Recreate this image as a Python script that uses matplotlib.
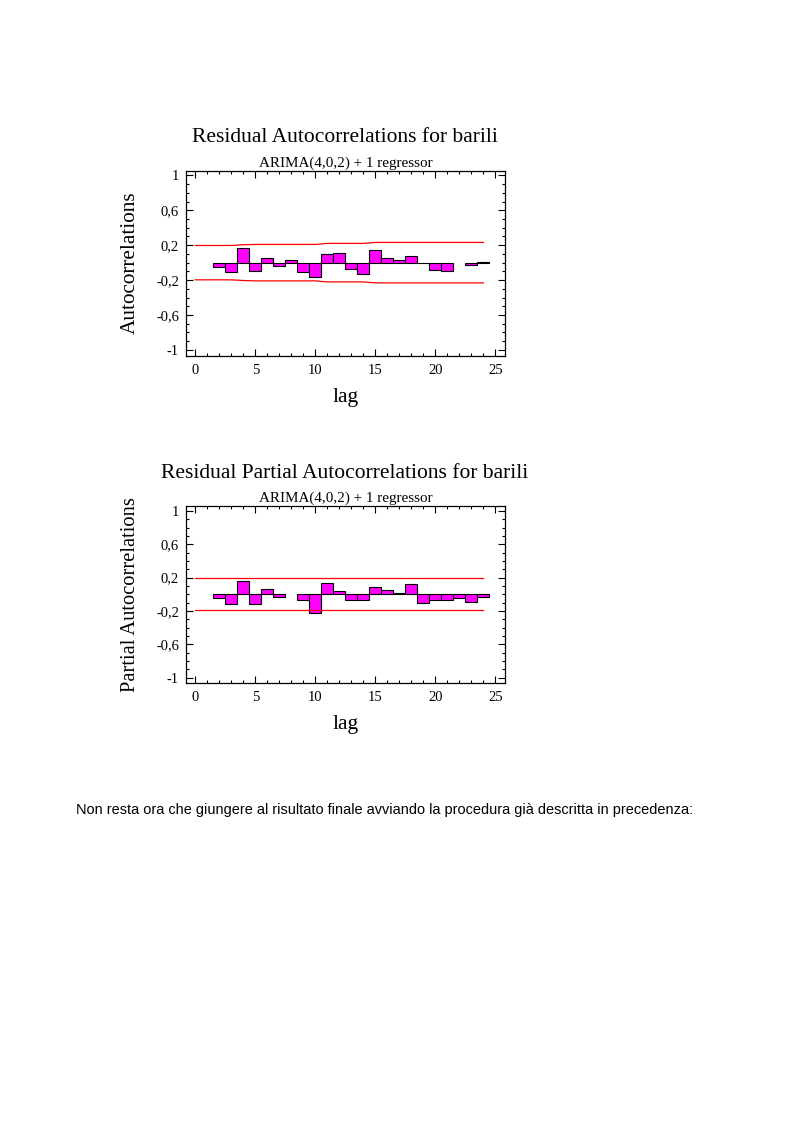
import numpy as np
import matplotlib
matplotlib.use("Agg")
import matplotlib.pyplot as plt
from matplotlib.ticker import MultipleLocator

######################## data ########################
lags = np.arange(1, 25)
# nan = no bar drawn at that lag
acf = [np.nan, -0.05, -0.11, 0.17, -0.10, 0.055, -0.04, 0.03, -0.11, -0.17,
       0.10, 0.11, -0.07, -0.13, 0.14, 0.055, 0.03, 0.08, -0.005, -0.085,
       -0.10, np.nan, -0.025, 0.01]
pacf = [np.nan, -0.05, -0.115, 0.165, -0.115, 0.065, -0.03, np.nan, -0.075, -0.22,
        0.135, 0.04, -0.075, -0.065, 0.09, 0.055, 0.015, 0.125, -0.105, -0.075,
        -0.065, -0.04, -0.09, -0.03]
lim_lags = np.arange(0, 25)
acf_lim = [0.197, 0.197, 0.197, 0.197, 0.205, 0.209, 0.209, 0.209, 0.209, 0.209,
           0.209, 0.221, 0.221, 0.221, 0.221, 0.232, 0.232, 0.232, 0.232, 0.232,
           0.232, 0.232, 0.232, 0.232, 0.232]
pacf_lim = [0.192] * 25

yticks = [-1, -0.6, -0.2, 0.2, 0.6, 1]
ytick_labels = ["-1", "-0,6", "-0,2", "0,2", "0,6", "1"]
xticks = [0, 5, 10, 15, 20, 25]

title1 = "Residual Autocorrelations for barili"
title2 = "Residual Partial Autocorrelations for barili"
subtitle = "ARIMA(4,0,2) + 1 regressor"
note = "Non resta ora che giungere al risultato finale avviando la procedura già descritta in precedenza:"

W, H = 793., 1123.
fig = plt.figure(figsize=(W / 100, H / 100), dpi=100)
serif = "Liberation Serif"


def panel(top, bottom, vals, lim, title, ylabel, ylo, yhi, ylsize):
    ax = fig.add_axes([186 / W, 1 - bottom / H, (505 - 186) / W, (bottom - top) / H])
    vals = np.array(vals, dtype=float)
    ok = ~np.isnan(vals)
    ax.bar(lags[ok], vals[ok], width=1.0, color="#ff00ff", edgecolor="black", linewidth=0.8)
    ax.plot(lim_lags, lim, color="red", lw=0.9)
    ax.plot(lim_lags, -np.array(lim), color="red", lw=0.9)
    ax.set_xlim(-0.78, 25.8)
    ax.set_ylim(ylo, yhi)
    ax.set_xticks(xticks)
    ax.set_yticks(yticks)
    ax.set_yticklabels(ytick_labels)
    ax.xaxis.set_minor_locator(MultipleLocator(1))
    ax.yaxis.set_minor_locator(MultipleLocator(0.1))
    ax.tick_params(which="both", direction="in", top=True, right=True,
                   labelsize=10.5, width=0.8)
    ax.tick_params(which="major", length=5)
    ax.tick_params(which="minor", length=2.5)
    ax.tick_params(axis="x", pad=6)
    ax.tick_params(axis="y", pad=5)
    for lab in ax.get_xticklabels() + ax.get_yticklabels():
        lab.set_fontfamily(serif)
    for s in ax.spines.values():
        s.set_linewidth(0.9)
    ax.set_xlabel("lag", fontsize=15.5, fontfamily=serif, labelpad=8)
    ax.set_ylabel(ylabel, fontsize=ylsize, fontfamily=serif, labelpad=12)
    ax.set_title(subtitle, fontsize=10.9, fontfamily=serif, pad=3)
    fig.text(345 / W, 1 - (top - 33) / H, title, ha="center", va="center",
             fontsize=15.5, fontfamily=serif)
    return ax


panel(170.5, 355.5, acf, acf_lim, title1, "Autocorrelations", -1.065, 1.057, 15.3)
panel(506, 682.5, pacf, pacf_lim, title2, "Partial Autocorrelations", -1.06, 1.06, 14.8)

fig.text(76 / W, 1 - 810 / H, note, ha="left", va="center", fontsize=10.45,
         fontfamily="Liberation Sans")

fig.savefig("out.png", dpi=100)
